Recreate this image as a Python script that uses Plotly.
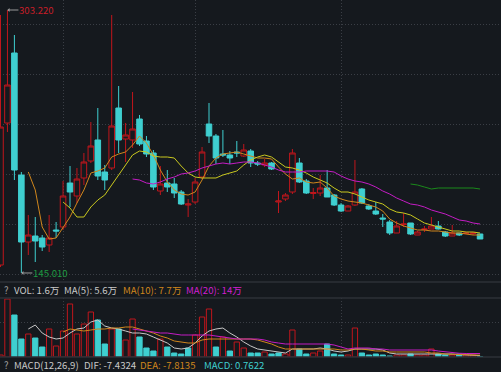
import plotly.graph_objects as go

# ---------------- data (price in CNY, volume in 万) ----------------
OPEN = [149.82, 235.24, 277.36, 203.96, 163.65, 167.26, 166.06, 161.85, 170.87, 172.68,
        199.15, 191.33, 202.16, 212.38, 225.02, 205.76, 208.17, 244.27, 225.62, 225.02,
        237.65, 224.41, 217.20, 194.33, 199.15, 198.55, 193.73, 185.91, 187.72, 202.76,
        234.64, 227.42, 216.59, 215.99, 217.80, 215.39, 218.40, 211.18, 209.98, 211.18,
        187.72, 189.52, 193.73, 211.18, 200.35, 192.83, 193.13, 196.14, 191.93, 185.91,
        182.30, 185.91, 195.54, 185.31, 182.30, 178.09, 175.68, 169.07, 174.18, 175.08,
        167.86, 171.17, 171.47, 173.28, 169.67, 167.26, 169.07, 168.77, 168.77, 168.47]
HIGH = [300.22, 303.22, 288.18, 205.76, 179.90, 178.69, 167.86, 179.90, 175.68, 200.35,
        209.37, 208.17, 217.20, 235.84, 244.27, 209.98, 300.22, 257.50, 235.24, 253.89,
        240.06, 227.42, 219.00, 209.37, 206.97, 202.16, 194.94, 189.52, 202.16, 220.80,
        247.28, 228.63, 231.03, 218.40, 224.41, 222.61, 219.60, 212.38, 213.59, 211.78,
        194.33, 193.13, 219.60, 214.19, 201.55, 196.14, 203.96, 206.97, 192.53, 187.12,
        185.91, 212.98, 196.14, 186.51, 187.72, 180.50, 176.89, 176.29, 181.10, 175.08,
        170.27, 173.28, 178.69, 176.29, 170.27, 173.88, 169.07, 169.67, 169.67, 168.47]
LOW = [148.61, 229.83, 200.95, 145.01, 155.83, 151.62, 158.24, 157.64, 166.06, 170.87,
       184.71, 187.12, 197.94, 211.18, 200.95, 194.94, 206.97, 217.20, 211.78, 220.20,
       221.41, 214.79, 194.94, 191.93, 193.73, 190.12, 185.91, 178.69, 186.51, 201.55,
       223.21, 210.58, 214.79, 210.58, 214.79, 214.79, 208.77, 209.37, 208.77, 206.97,
       181.10, 188.32, 192.53, 199.15, 192.53, 189.52, 191.33, 190.72, 185.31, 181.70,
       182.30, 185.31, 186.51, 182.90, 179.90, 172.68, 167.86, 169.07, 172.68, 167.86,
       167.86, 169.67, 171.47, 171.17, 166.66, 167.26, 167.26, 168.47, 167.86, 165.46]
CLOSE = [232.84, 258.10, 206.97, 163.65, 167.86, 164.25, 160.64, 166.06, 170.27, 191.33,
         193.73, 201.55, 211.78, 221.41, 203.36, 200.95, 233.44, 225.02, 228.02, 231.63,
         222.61, 216.59, 196.74, 198.55, 196.74, 193.13, 186.51, 186.51, 199.75, 217.80,
         227.42, 214.19, 215.99, 214.19, 217.20, 219.00, 211.18, 210.58, 211.18, 207.57,
         188.32, 191.93, 217.20, 199.75, 193.13, 193.43, 196.14, 190.72, 185.91, 182.30,
         185.31, 193.73, 187.12, 183.51, 180.50, 177.49, 169.07, 173.28, 174.48, 168.47,
         169.67, 171.47, 173.28, 171.47, 167.26, 169.07, 167.86, 169.07, 169.07, 165.46]

MA5_START = 4
MA5 = [205.76, 194.94, 172.68, 165.46, 166.06, 172.08, 178.69, 187.12, 194.94, 205.16,
       206.37, 208.17, 214.79, 216.59, 217.80, 222.01, 227.42, 223.21, 215.99, 206.97,
       199.75, 194.94, 192.53, 191.93, 193.73, 200.95, 209.37, 214.19, 216.59, 217.20,
       217.80, 216.59, 215.39, 214.19, 214.19, 213.59, 208.77, 204.56, 201.55, 202.16,
       199.75, 199.15, 199.75, 196.14, 191.33, 189.52, 188.32, 187.72, 187.12, 185.91,
       184.71, 182.30, 177.49, 175.08, 173.28, 172.08, 170.87, 170.87, 170.27, 170.27,
       169.67, 169.07, 169.07, 168.47, 167.86, 167.86]
MA10_START = 9
MA10 = [187.72, 184.11, 178.69, 178.69, 184.71, 188.92, 191.93, 197.94, 203.96, 210.58,
        215.99, 218.40, 217.80, 215.39, 214.79, 214.79, 214.19, 209.37, 205.16, 202.76,
        202.16, 202.16, 202.16, 203.96, 205.16, 206.37, 209.98, 212.98, 214.79, 215.99,
        214.79, 211.78, 208.77, 208.17, 206.97, 205.16, 202.76, 200.95, 199.15, 196.14,
        193.73, 193.73, 192.53, 190.72, 188.92, 187.72, 186.51, 183.51, 181.70, 181.10,
        179.90, 177.49, 175.08, 173.88, 172.68, 171.47, 170.27, 170.27, 169.67, 169.67,
        169.07]
MA20_START = 19
MA20 = [201.55, 200.95, 199.15, 198.55, 199.75, 201.55, 202.76, 204.56, 205.16, 206.37,
        208.17, 209.37, 210.58, 211.18, 210.58, 211.18, 211.78, 211.78, 211.18, 209.98,
        208.77, 206.97, 205.76, 205.76, 205.76, 206.37, 206.37, 206.37, 206.37, 205.76,
        203.36, 201.55, 200.35, 199.75, 198.55, 196.74, 194.33, 192.53, 190.12, 188.32,
        186.51, 185.91, 184.71, 182.90, 181.70, 180.50, 178.69, 176.89, 176.29, 175.08,
        174.48]
MA60_START = 59
MA60 = [198.55, 197.94, 196.74, 195.54, 196.14, 196.14, 196.14, 196.14, 196.14, 196.14,
        195.54]

VOL = [8, 232, 168, 72, 92, 76, 40, 112, 44, 104,
       212, 92, 132, 180, 148, 52, 112, 112, 68, 152,
       80, 36, 24, 72, 40, 16, 12, 36, 88, 160,
       192, 40, 80, 24, 60, 36, 16, 16, 20, 12,
       16, 12, 108, 32, 12, 16, 24, 52, 12, 8,
       8, 116, 16, 8, 12, 8, 4, 8, 8, 12,
       8, 8, 32, 12, 8, 8, 12, 8, 8, 1.6]
VOL_UP = [1, 1, 0, 0, 1, 0, 0, 1, 1, 1,
          1, 1, 1, 1, 0, 0, 1, 0, 1, 1,
          0, 0, 0, 1, 0, 0, 0, 0, 1, 1,
          1, 0, 1, 0, 1, 1, 0, 0, 1, 0,
          0, 1, 1, 0, 0, 1, 1, 0, 0, 0,
          1, 1, 0, 0, 0, 0, 0, 1, 1, 0,
          1, 1, 1, 0, 0, 1, 0, 1, 1, 0]
VMA5_START = 4
VMA5 = [112, 128, 96, 80, 72, 76, 96, 112, 116, 140, 148, 124, 116, 112, 104, 96, 96, 92,
        80, 68, 56, 36, 32, 36, 56, 84, 104, 112, 116, 96, 80, 60, 44, 32, 28, 24, 20, 16,
        32, 32, 32, 32, 36, 32, 24, 20, 24, 32, 32, 32, 32, 28, 16, 12, 12, 12, 12, 14, 14,
        14, 14, 12, 10, 8, 8, 5.6]
VMA10_START = 9
VMA10 = [100, 112, 108, 104, 108, 112, 112, 116, 116, 120, 120, 112, 104, 96, 84, 76, 64,
         60, 56, 56, 68, 72, 72, 72, 72, 72, 72, 72, 68, 60, 52, 40, 32, 32, 32, 32, 32, 32,
         32, 32, 28, 28, 32, 32, 28, 24, 24, 20, 20, 20, 20, 20, 20, 16, 16, 12, 12, 10, 9,
         8, 7.7]
VMA20_START = 19
VMA20 = [112, 108, 104, 100, 96, 96, 92, 88, 88, 88, 88, 88, 84, 80, 76, 72, 72, 72, 72,
         68, 60, 56, 52, 52, 52, 52, 52, 52, 52, 48, 40, 32, 36, 36, 36, 32, 32, 28, 28, 28,
         28, 28, 28, 28, 24, 20, 16, 15, 14, 14, 14]

HIGH_LABEL = "303.220"
LOW_LABEL = "145.010"
VOL_HEADER = ["VOL: 1.6万", "MA(5): 5.6万", "MA(10): 7.7万", "MA(20): 14万"]
MACD_HEADER = ["MACD(12,26,9)", "DIF: -7.4324", "DEA: -7.8135", "MACD: 0.7622"]

# ---------------- style ----------------
W, H = 501, 372
BG = "#15191e"
RED = "#c0161c"
CYAN = "#3fcfd0"
ORANGE = "#d0861c"
YELLOW = "#c9c81f"
MAGENTA = "#c41cc4"
GREEN = "#1a8a1a"
WHITE = "#c8c8c8"
GRID = "#3a3e45"
SEP = "#2c3037"
FONT = "Noto Sans CJK SC, DejaVu Sans, sans-serif"
TXT = 9.6

n = len(CLOSE)
idx = list(range(n))

fig = go.Figure()

fig.add_trace(go.Candlestick(
    x=idx, open=OPEN, high=HIGH, low=LOW, close=CLOSE,
    increasing=dict(line=dict(color=RED, width=1), fillcolor=BG),
    decreasing=dict(line=dict(color=CYAN, width=1), fillcolor=CYAN),
    whiskerwidth=0, showlegend=False, hoverinfo="skip",
    xaxis="x", yaxis="y"))

for start, vals, col in [(MA5_START, MA5, ORANGE), (MA10_START, MA10, YELLOW),
                         (MA20_START, MA20, MAGENTA), (MA60_START, MA60, GREEN)]:
    fig.add_trace(go.Scatter(x=list(range(start, start + len(vals))), y=vals, mode="lines",
                             line=dict(color=col, width=1), showlegend=False,
                             hoverinfo="skip", xaxis="x", yaxis="y"))

fig.add_trace(go.Bar(
    x=idx, y=VOL, width=0.76,
    marker=dict(color=[BG if u else CYAN for u in VOL_UP],
                line=dict(color=[RED if u else CYAN for u in VOL_UP], width=1)),
    showlegend=False, hoverinfo="skip", xaxis="x2", yaxis="y2"))

for start, vals, col in [(VMA5_START, VMA5, WHITE), (VMA10_START, VMA10, ORANGE),
                         (VMA20_START, VMA20, MAGENTA)]:
    fig.add_trace(go.Scatter(x=list(range(start, start + len(vals))), y=vals, mode="lines",
                             line=dict(color=col, width=1), showlegend=False,
                             hoverinfo="skip", xaxis="x2", yaxis="y2"))

XR = [-0.072, (W - 0.5) / 6.95]
xax = dict(range=XR, showticklabels=False, tickvals=[9, 28, 49], showgrid=True,
           gridcolor=GRID, griddash="1px,2px", gridwidth=1, zeroline=False,
           showline=False, ticks="", fixedrange=True)

def ypx(p):
    return 1 - p / H

fig.update_layout(
    width=W, height=H, margin=dict(l=0, r=0, t=0, b=0),
    paper_bgcolor=BG, plot_bgcolor=BG, hovermode=False,
    boxgap=0.2, boxgroupgap=0, barmode="overlay",
    xaxis=dict(xax, domain=[0, 1], anchor="y", rangeslider=dict(visible=False)),
    xaxis2=dict(xax, domain=[0, 1], anchor="y2"),
    yaxis=dict(domain=[ypx(282), 1], range=[139.59, 309.24], showticklabels=False,
               tickvals=[294.80, 264.72, 234.64, 204.56, 174.48, 144.40],
               showgrid=True, gridcolor=GRID, griddash="1px,2px", zeroline=False,
               showline=False, ticks="", fixedrange=True),
    yaxis2=dict(domain=[ypx(357), ypx(298)], range=[0, 236], showticklabels=False,
                tickvals=[138], showgrid=True, gridcolor=GRID, griddash="1px,2px",
                zeroline=False, showline=False, ticks="", fixedrange=True),
)

# pane separators
for yp in [282, 298, 357]:
    fig.add_shape(type="line", xref="paper", yref="paper", x0=0, x1=1,
                  y0=ypx(yp), y1=ypx(yp), line=dict(color=SEP, width=1.5))

# high / low markers with a short leftward arrow
for xi, price, txt, col in [(1, 303.22, HIGH_LABEL, "#c81e28"), (3, 145.01, LOW_LABEL, "#1e9a40")]:
    fig.add_annotation(x=xi, y=price, xref="x", yref="y", ax=11, ay=0,
                       xanchor="left", yanchor="middle", showarrow=True,
                       arrowhead=1, arrowsize=0.7, arrowwidth=1, arrowcolor="#9a9a9a",
                       borderpad=0, text=txt, font=dict(family=FONT, size=9.6, color=col))

# header rows
def label(px, py, txt, col):
    fig.add_annotation(x=px / W, y=ypx(py), xref="paper", yref="paper",
                       xanchor="left", yanchor="middle", showarrow=False,
                       text=txt, font=dict(family=FONT, size=TXT, color=col))

label(2, 290, "?", "#a0a0a0")
for px, txt, col in zip([12, 62, 121, 184], VOL_HEADER, [WHITE, WHITE, ORANGE, "#d01ed0"]):
    label(px, 290, txt, col)
label(2, 365, "?", "#a0a0a0")
for px, txt, col in zip([12, 82, 138, 202], MACD_HEADER, [WHITE, WHITE, ORANGE, CYAN]):
    label(px, 365, txt, col)

fig.write_html("out.html", config=dict(displayModeBar=False, staticPlot=True),
               post_script="document.body.style.margin='0';document.body.style.overflow='hidden';")
